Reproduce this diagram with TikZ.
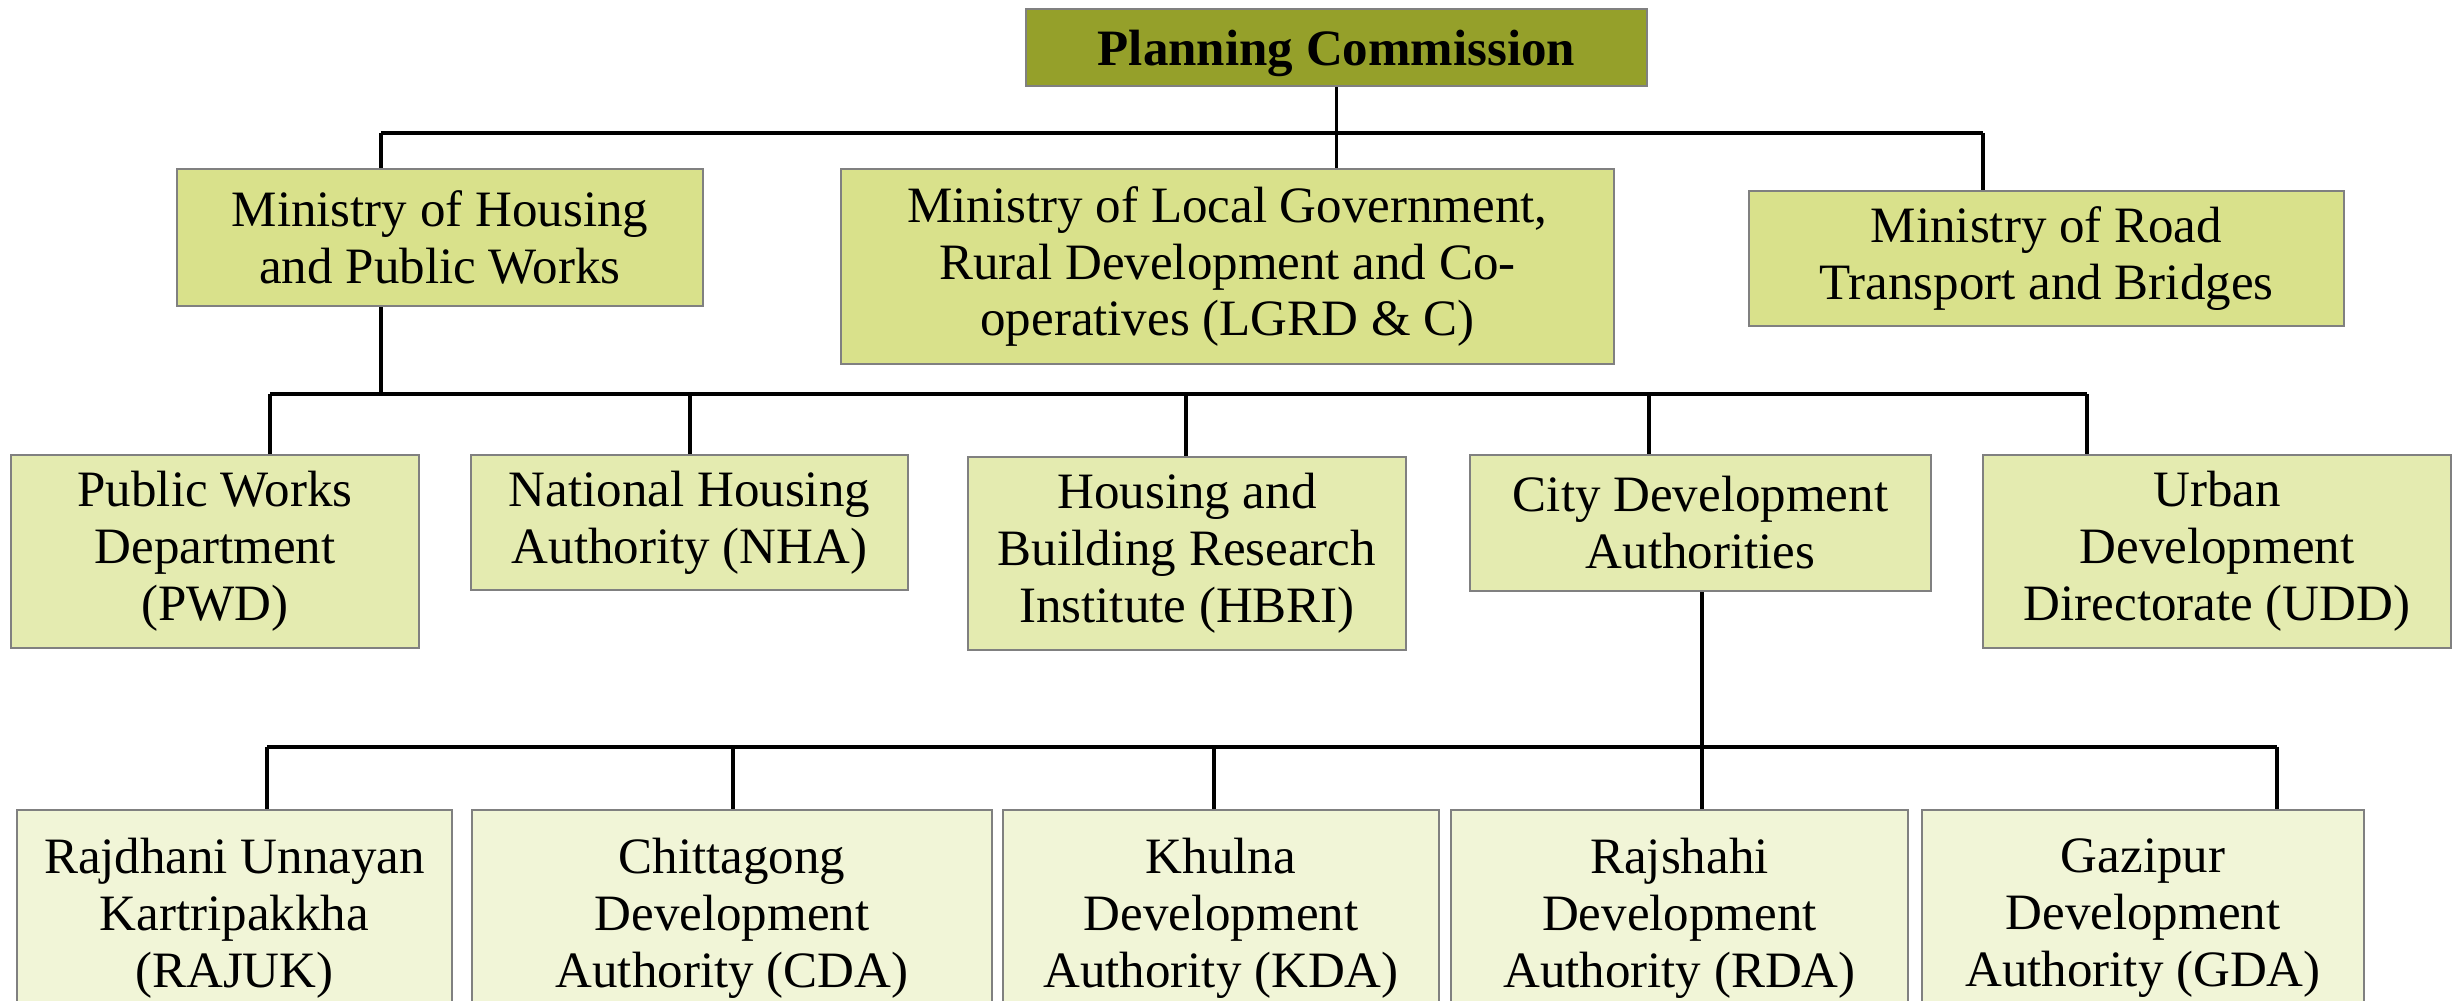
\documentclass[tikz,border=0pt]{standalone}
\usepackage{fontspec}
\setmainfont{Liberation Serif}
\usepackage{tikz}

\definecolor{pcolive}{RGB}{149,160,42}
\definecolor{minfill}{RGB}{217,225,139}
\definecolor{orgfill}{RGB}{228,235,176}
\definecolor{authfill}{RGB}{241,245,215}

\tikzset{
  box/.style={draw=gray, line width=0.6pt, align=center, inner sep=2pt,
    font=\fontsize{14.5}{16.2}\selectfont},
  pcbox/.style={box, fill=pcolive, text depth=0pt, font=\fontsize{14.5}{16.2}\selectfont\bfseries},
  minbox/.style={box, fill=minfill},
  orgbox/.style={box, fill=orgfill},
  authbox/.style={box, fill=authfill},
  bus/.style={line width=1.2pt},
  drop/.style={line width=0.9pt}
}

\begin{document}
\begin{tikzpicture}[x=0.01cm, y=-0.01cm]
  \useasboundingbox (0,0) rectangle (2460,1001);
  % top
  \node[pcbox, minimum width=6.21cm, minimum height=0.77cm] (pc) at (1336.5,47.5) {Planning Commission};
  % ministries
  \node[minbox, minimum width=5.26cm, minimum height=1.37cm] (mhpw) at (440,237.5) {Ministry of Housing\\and Public Works};
  \node[minbox, minimum width=7.73cm, minimum height=1.95cm] (lgrd) at (1227.5,266.5) {Ministry of Local Government,\\Rural Development and Co-\\operatives (LGRD \& C)};
  \node[minbox, minimum width=5.95cm, minimum height=1.35cm] (mrtb) at (2046.5,258.5) {Ministry of Road\\Transport and Bridges};
  % departments
  \node[orgbox, minimum width=4.08cm, minimum height=1.93cm] (pwd) at (215,551.5) {Public Works\\Department\\(PWD)};
  \node[orgbox, minimum width=4.37cm, minimum height=1.35cm] (nha) at (689.5,522.5) {National Housing\\Authority (NHA)};
  \node[orgbox, minimum width=4.38cm, minimum height=1.93cm] (hbri) at (1187,553.5) {Housing and\\Building Research\\Institute (HBRI)};
  \node[orgbox, minimum width=4.61cm, minimum height=1.36cm] (cdauth) at (1700.5,523) {City Development\\Authorities};
  \node[orgbox, minimum width=4.68cm, minimum height=1.93cm] (udd) at (2217,551.5) {Urban\\Development\\Directorate (UDD)};
  % development authorities
  \node[authbox, minimum width=4.35cm, minimum height=2.16cm] (rajuk) at (234.5,918) {Rajdhani Unnayan\\Kartripakkha\\(RAJUK)};
  \node[authbox, minimum width=5.2cm, minimum height=2.16cm] (cda) at (732,918) {Chittagong\\Development\\Authority (CDA)};
  \node[authbox, minimum width=4.36cm, minimum height=2.16cm] (kda) at (1221,918) {Khulna\\Development\\Authority (KDA)};
  \node[authbox, minimum width=4.57cm, minimum height=2.16cm] (rda) at (1679.5,918) {Rajshahi\\Development\\Authority (RDA)};
  \node[authbox, minimum width=4.42cm, minimum height=2.16cm] (gda) at (2143,918) {Gazipur\\Development\\Authority (GDA)};

  % bus points
  \coordinate (tl) at (381,133);
  \coordinate (tr) at (1983,133);
  \coordinate (ml) at (270,394);
  \coordinate (mr) at (2087,394);
  \coordinate (bl) at (267,747);
  \coordinate (br) at (2277,747);

  % first level
  \draw[bus] (tl) -- (tr);
  \draw[drop] (pc.south) -- (pc.south |- lgrd.north);
  \draw[drop] (tl) -- (tl |- mhpw.north);
  \draw[drop] (tr) -- (tr |- mrtb.north);
  % second level
  \draw[drop] (tl |- mhpw.south) -- (tl |- ml);
  \draw[bus] (ml) -- (mr);
  \draw[drop] (ml) -- (ml |- pwd.north);
  \draw[drop] (690,394) -- (690,0 |- nha.north);
  \draw[drop] (1186,394) -- (1186,0 |- hbri.north);
  \draw[drop] (1649,394) -- (1649,0 |- cdauth.north);
  \draw[drop] (mr) -- (mr |- udd.north);
  % third level
  \draw[drop] (1702,0 |- cdauth.south) -- (1702,0 |- rda.north);
  \draw[bus] (bl) -- (br);
  \draw[drop] (bl) -- (bl |- rajuk.north);
  \draw[drop] (733,747) -- (733,0 |- cda.north);
  \draw[drop] (1214,747) -- (1214,0 |- kda.north);
  \draw[drop] (br) -- (br |- gda.north);
\end{tikzpicture}
\end{document}
